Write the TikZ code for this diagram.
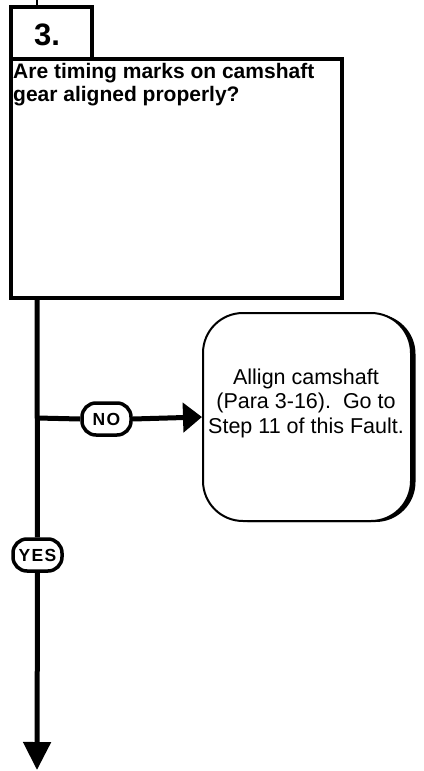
\documentclass[tikz,border=0pt]{standalone}
\usepackage{fontspec}
\setmainfont{Liberation Sans}
\newfontfamily\labfont{Liberation Sans}[LetterSpace=8]
\usetikzlibrary{arrows.meta,shadows}
\begin{document}
\begin{tikzpicture}[x=1pt,y=-1pt,
  boxline/.style={draw, line width=4pt, inner sep=0pt},
  flow/.style={line width=5pt},
  lab/.style={draw, line width=3.5pt, rounded corners=14pt, minimum width=49pt,
    minimum height=32pt, inner sep=0pt, fill=white,
    font=\labfont\bfseries\fontsize{17.5}{17.5}\selectfont},
  act/.style={draw, line width=2pt, fill=white, rounded corners=40pt,
    minimum width=208pt, minimum height=208pt, inner sep=0pt,
    general shadow={fill=black, shadow xshift=4.5pt, shadow yshift=-1pt}}]
\useasboundingbox (0,0) rectangle (423,771);
% step number box
\node[boxline, minimum width=81pt, minimum height=52pt, anchor=north west] (num) at (9,5) {};
\node[font=\bfseries\fontsize{31}{31}\selectfont, anchor=base, inner sep=0pt] (numtext) at (47,45) {3.};
% question box
\node[boxline, minimum width=331pt, minimum height=239pt, anchor=north west] (qbox) at (9,57) {};
\node[anchor=north west, inner sep=0pt, align=left,
  font=\bfseries\fontsize{21}{23.5}\selectfont] (qtext) at (13,63)
  {Are timing marks on camshaft\\gear aligned properly?};
% action box
\node[act] (act) at (307,417) {};
\node[font=\fontsize{21.5}{24.5}\selectfont, align=center, inner sep=0pt] (acttext) at (306,403)
  {Allign camshaft\\(Para 3-16).\ \ Go to\\Step 11 of this Fault.};
% labels
\node[lab] (no) at (106.5,419) {NO};
\node[lab] (yes) at (37.5,555) {YES};
% coordinates
\coordinate (in) at (37,0);
\coordinate (br) at (37,418);
\coordinate (end) at (37,770);
% connectors
\draw[line width=2.5pt] (in) -- (in |- num.north);
\draw[flow] (qbox.south -| br) -- (yes.north);
\draw[flow] (br) -- (no.west);
\draw[flow, -{Triangle[length=19pt,width=29pt]}] (no.east) -- (act.west);
\draw[flow, -{Triangle[length=28pt,width=27pt]}] (yes.south) -- (end);
\end{tikzpicture}
\end{document}
